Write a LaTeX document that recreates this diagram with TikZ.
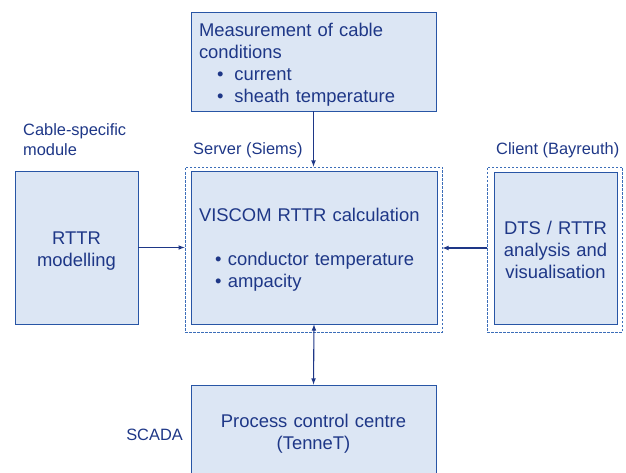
\documentclass[tikz,border=0pt]{standalone}
\usepackage{fontspec}
\setmainfont{Liberation Sans}
\usetikzlibrary{arrows,positioning}
\definecolor{boxfill}{RGB}{220,230,244}
\definecolor{boxline}{RGB}{40,85,165}
\definecolor{boxtext}{RGB}{30,55,135}
\definecolor{dashline}{RGB}{60,110,185}

\begin{document}
\begin{tikzpicture}[x=1pt,y=-1pt,
      block/.style={rectangle, draw=boxline, fill=boxfill, line width=0.9pt, text=boxtext, inner xsep=8pt, inner ysep=0pt, text height=19.4pt, font=\fontsize{18.4}{22}\selectfont},
      group/.style={rectangle, draw=dashline, dash pattern=on 2.5pt off 1.5pt, line width=0.8pt},
      tag/.style={text=boxtext, inner sep=0pt, align=left, font=\fontsize{16.4}{20}\selectfont},
      pfeil/.style={->, >=latex, draw=boxtext, line width=1.1pt}]

\useasboundingbox (0,0) rectangle (626,473);
\clip (0,0) rectangle (626,473);

% boxes
\node[block, minimum width=245pt, minimum height=99pt, text width=229pt, align=left] (meas) at (313.5,61.5)
  {Measurement of cable\\ conditions\\ \hspace*{18pt}\textbullet\hspace{11pt}current\\ \hspace*{18pt}\textbullet\hspace{11pt}sheath temperature};
\node[block, minimum width=246pt, minimum height=153pt, text width=230pt, text height=18.4pt, align=left] (calc) at (314,247.5)
  {VISCOM RTTR calculation\\[22pt] \hspace*{16pt}\textbullet\hspace{6.5pt}conductor temperature\\ \hspace*{16pt}\textbullet\hspace{6.5pt}ampacity};
\node[block, minimum width=123pt, minimum height=153pt, text width=107pt, text height=20.7pt, align=center] (model) at (76.5,247.5) {RTTR\\ modelling};
\node[block, minimum width=123pt, minimum height=152pt, text width=107pt, text height=17.4pt, align=center] (dts) at (555.5,248) {DTS / RTTR\\ analysis and\\ visualisation};
\node[block, minimum width=245pt, minimum height=93pt, text width=229pt, text height=18.4pt, align=center] (scada) at (313.5,431.5) {Process control centre\\ (TenneT)};

% dashed groups
\node[group, minimum width=257pt, minimum height=165pt] (server) at (313.5,249.5) {};
\node[group, minimum width=135pt, minimum height=165pt] (client) at (554.5,249.5) {};

% tags
\node[tag, anchor=west] (cabletag) at (23,140) {Cable-specific\\ module};
\node[tag, anchor=west] (servertag) at (193,150) {Server (Siems)};
\node[tag, anchor=west] (clienttag) at (496,150) {Client (Bayreuth)};
\node[tag, anchor=east] (scadatag) at (183,435) {SCADA};

% arrows
\draw[pfeil] (meas.south) -- (server.north);
\draw[pfeil] (model.east) -- (model.east -| server.west);
\draw[pfeil] (dts.west -| client.west) -- (dts.west -| server.east);
\draw[pfeil, <->] (calc.south) -- (scada.north);

\end{tikzpicture}
\end{document}
